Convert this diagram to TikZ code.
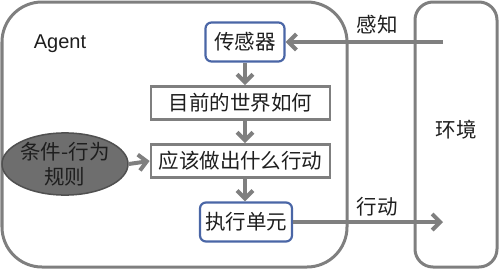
\documentclass[tikz,border=0pt]{standalone}
\usepackage{fontspec}
\setmainfont{Liberation Sans}
\newfontfamily\cjk{Noto Sans CJK SC}
\usetikzlibrary{arrows.meta,shapes.geometric}
\definecolor{framegray}{HTML}{7F7F7F}
\definecolor{boxblue}{HTML}{4A66A6}
\definecolor{ellfill}{HTML}{6E6E6E}
\definecolor{ellline}{HTML}{505050}
\definecolor{txt}{HTML}{1E1E1E}
\tikzset{
  frame/.style={draw=framegray, line width=3pt},
  bluebox/.style={draw=boxblue, line width=2.2pt, rounded corners=6pt, fill=white,
    inner sep=0pt, text=txt, font=\cjk\fontsize{20.5}{24}\selectfont},
  graybox/.style={draw=framegray, line width=2.8pt, fill=white, inner sep=0pt,
    minimum width=179pt, minimum height=33pt, text=txt, font=\cjk\fontsize{20.5}{24}\selectfont},
  rulesell/.style={ellipse, draw=ellline, line width=1.5pt, fill=ellfill, inner sep=0pt,
    minimum width=114pt, minimum height=58pt, text=txt, align=center,
    font=\cjk\fontsize{20.5}{25}\selectfont},
  lbl/.style={text=txt, font=\cjk\fontsize{20.5}{24}\selectfont},
  flow/.style={draw=framegray, line width=4pt, -{Straight Barb[length=8pt,width=16pt,line width=4pt]}},
}
\begin{document}
\begin{tikzpicture}[x=1pt,y=1pt]
\useasboundingbox (0,0) rectangle (499,269);
\draw[frame, rounded corners=40pt] (2,2) rectangle (347,267);
\draw[frame, rounded corners=18pt] (415,2) rectangle (497,267);

\node[text=txt, font=\fontsize{20}{24}\selectfont] (agent) at (60,225) {Agent};
\node[bluebox, minimum width=79pt, minimum height=39pt] (sensor) at (245,227) {传感器};
\node[graybox] (world) at (240.5,166) {目前的世界如何};
\node[graybox] (act) at (240.5,108) {应该做出什么行动};
\node[bluebox, minimum width=92pt, minimum height=39pt] (exec) at (246,47) {执行单元};
\node[rulesell] (rules) at (65,105) {条件-行为\\规则};

\node[lbl] (perc) at (377,244) {感知};
\node[lbl] (env) at (456,139) {环境};
\node[lbl] (actl) at (377,62) {行动};

\coordinate (envin) at (443,227);
\coordinate (envout) at (443,46);

\draw[flow] (envin) -- (sensor.east);
\draw[flow] (sensor.south) -- (sensor.south |- world.north);
\draw[flow] (sensor.south |- world.south) -- (sensor.south |- act.north);
\draw[flow] (sensor.south |- act.south) -- (sensor.south |- exec.north);
\draw[flow] (rules.east) -- (act.west);
\draw[flow] (exec.east) -- (exec.east -| envout);
\end{tikzpicture}
\end{document}
